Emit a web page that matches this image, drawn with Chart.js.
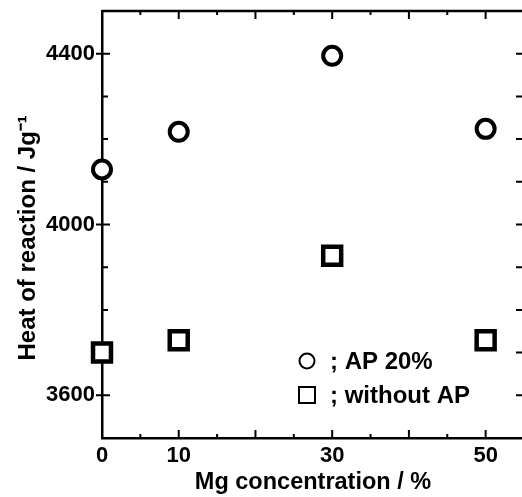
<!DOCTYPE html>
<html>
<head>
<meta charset="utf-8">
<script src="https://cdn.jsdelivr.net/npm/chart.js@4"></script>
<style>
  html, body { margin: 0; padding: 0; background: #fff; overflow: hidden; }
  canvas { display: block; }
</style>
</head>
<body>
<canvas id="heatChart" width="530" height="497"></canvas>
<script>
// values
const mgConcentration = [0, 10, 30, 50];
const heatWithAP = [4129, 4217, 4395, 4224];
const heatWithoutAP = [3700, 3729, 3927, 3729];

const xTickLabels = [0, 10, 30, 50];
const yTickLabels = [3600, 4000, 4400];
const xMarks = [5, 10, 15, 20, 25, 30, 35, 40, 45, 50];
const yMarks = [3600, 3700, 3800, 3900, 4000, 4100, 4200, 4300, 4400];

const seriesNames = ["; AP 20%", "; without AP"];

const FONT = "'Liberation Sans', Arial, Helvetica, sans-serif";

function toPoints(xs, ys) {
  return xs.map((x, i) => ({ x: x, y: ys[i] }));
}

// frame + inward tick marks, drawn from the scales
const framePlugin = {
  id: "frame",
  beforeDatasetsDraw(chart) {
    const { ctx, chartArea: a } = chart;
    const xs = chart.scales.x;
    const ys = chart.scales.y;
    ctx.save();
    ctx.strokeStyle = "#000";
    ctx.lineWidth = 2.5;
    ctx.beginPath();
    ctx.moveTo(a.left, a.top);
    ctx.lineTo(a.right, a.top);
    ctx.lineTo(a.right, a.bottom);
    ctx.stroke();

    ctx.lineWidth = 2;
    ctx.beginPath();
    xMarks.forEach((v) => {
      const px = xs.getPixelForValue(v);
      const len = v % 10 === 0 ? 8 : 4;
      ctx.moveTo(px, a.bottom);
      ctx.lineTo(px, a.bottom - len);
      ctx.moveTo(px, a.top);
      ctx.lineTo(px, a.top + len);
    });
    yMarks.forEach((v) => {
      const py = ys.getPixelForValue(v);
      const major = yTickLabels.includes(v);
      ctx.moveTo(major ? a.left - 6 : a.left, py);
      ctx.lineTo(a.left + (major ? 8 : 6), py);
      ctx.moveTo(a.right, py);
      ctx.lineTo(a.right - 8, py);
    });
    ctx.stroke();
    ctx.restore();
  },
  afterDatasetsDraw(chart) {
    // legend inside the plot, lower middle
    const { ctx, chartArea: a } = chart;
    const lx = a.left + 205;
    const ly = a.bottom - 77;
    ctx.save();
    ctx.strokeStyle = "#000";
    ctx.fillStyle = "#000";
    ctx.lineWidth = 2;
    ctx.beginPath();
    ctx.arc(lx, ly, 7.5, 0, Math.PI * 2);
    ctx.stroke();
    ctx.strokeRect(lx - 8, ly + 34 - 8, 16, 16);
    ctx.font = "bold 24px " + FONT;
    ctx.textBaseline = "middle";
    ctx.fillText(seriesNames[0], lx + 23, ly + 1);
    ctx.fillText(seriesNames[1], lx + 23, ly + 35);
    ctx.restore();
  },
};

const ctx = document.getElementById("heatChart").getContext("2d");

new Chart(ctx, {
  type: "scatter",
  data: {
    datasets: [
      {
        label: seriesNames[0],
        data: toPoints(mgConcentration, heatWithAP),
        pointStyle: "circle",
        pointRadius: 9,
        pointHoverRadius: 9,
        borderWidth: 4,
        borderColor: "#000",
        backgroundColor: "#fff",
        clip: false,
      },
      {
        label: seriesNames[1],
        data: toPoints(mgConcentration, heatWithoutAP),
        pointStyle: "rect",
        pointRadius: 12.7,
        pointHoverRadius: 12.7,
        borderWidth: 4.5,
        borderColor: "#000",
        backgroundColor: "#fff",
        clip: false,
      },
    ],
  },
  options: {
    responsive: false,
    animation: false,
    layout: {
      autoPadding: false,
      padding: { top: 11, right: 6, left: 0, bottom: 0 },
    },
    plugins: {
      legend: { display: false },
      tooltip: { enabled: false },
    },
    scales: {
      x: {
        type: "linear",
        min: 0,
        max: 55,
        afterBuildTicks: (s) => {
          s.ticks = xTickLabels.map((v) => ({ value: v }));
        },
        afterFit: (s) => {
          s.height = 59;
          s.paddingLeft = 0;
          s.paddingRight = 0;
        },
        grid: { drawOnChartArea: false, drawTicks: false },
        border: { display: true, color: "#000", width: 2.5 },
        ticks: {
          color: "#000",
          padding: 5,
          maxRotation: 0,
          callback: (v) => String(v),
          font: { family: FONT, size: 22, weight: "bold" },
        },
        title: {
          display: true,
          text: "Mg concentration / %",
          color: "#000",
          padding: { top: 0, bottom: 0 },
          font: { family: FONT, size: 23.5, weight: "bold" },
        },
      },
      y: {
        type: "linear",
        min: 3500,
        max: 4500,
        afterBuildTicks: (s) => {
          s.ticks = yTickLabels.map((v) => ({ value: v }));
        },
        afterFit: (s) => {
          s.width = 102;
          s.paddingTop = 0;
          s.paddingBottom = 0;
        },
        grid: { drawOnChartArea: false, drawTicks: false },
        border: { display: true, color: "#000", width: 2.5 },
        ticks: {
          color: "#000",
          padding: 7,
          callback: (v) => String(v),
          font: { family: FONT, size: 22, weight: "bold" },
        },
        title: {
          display: true,
          // trailing spaces nudge the rotated title down like the original
          text: "Heat of reaction / Jg\u207B\u00B9\u00A0\u00A0\u00A0\u00A0",
          color: "#000",
          padding: { top: 14, bottom: 0 },
          font: { family: FONT, size: 24, weight: "bold" },
        },
      },
    },
  },
  plugins: [framePlugin],
});
</script>
</body>
</html>
